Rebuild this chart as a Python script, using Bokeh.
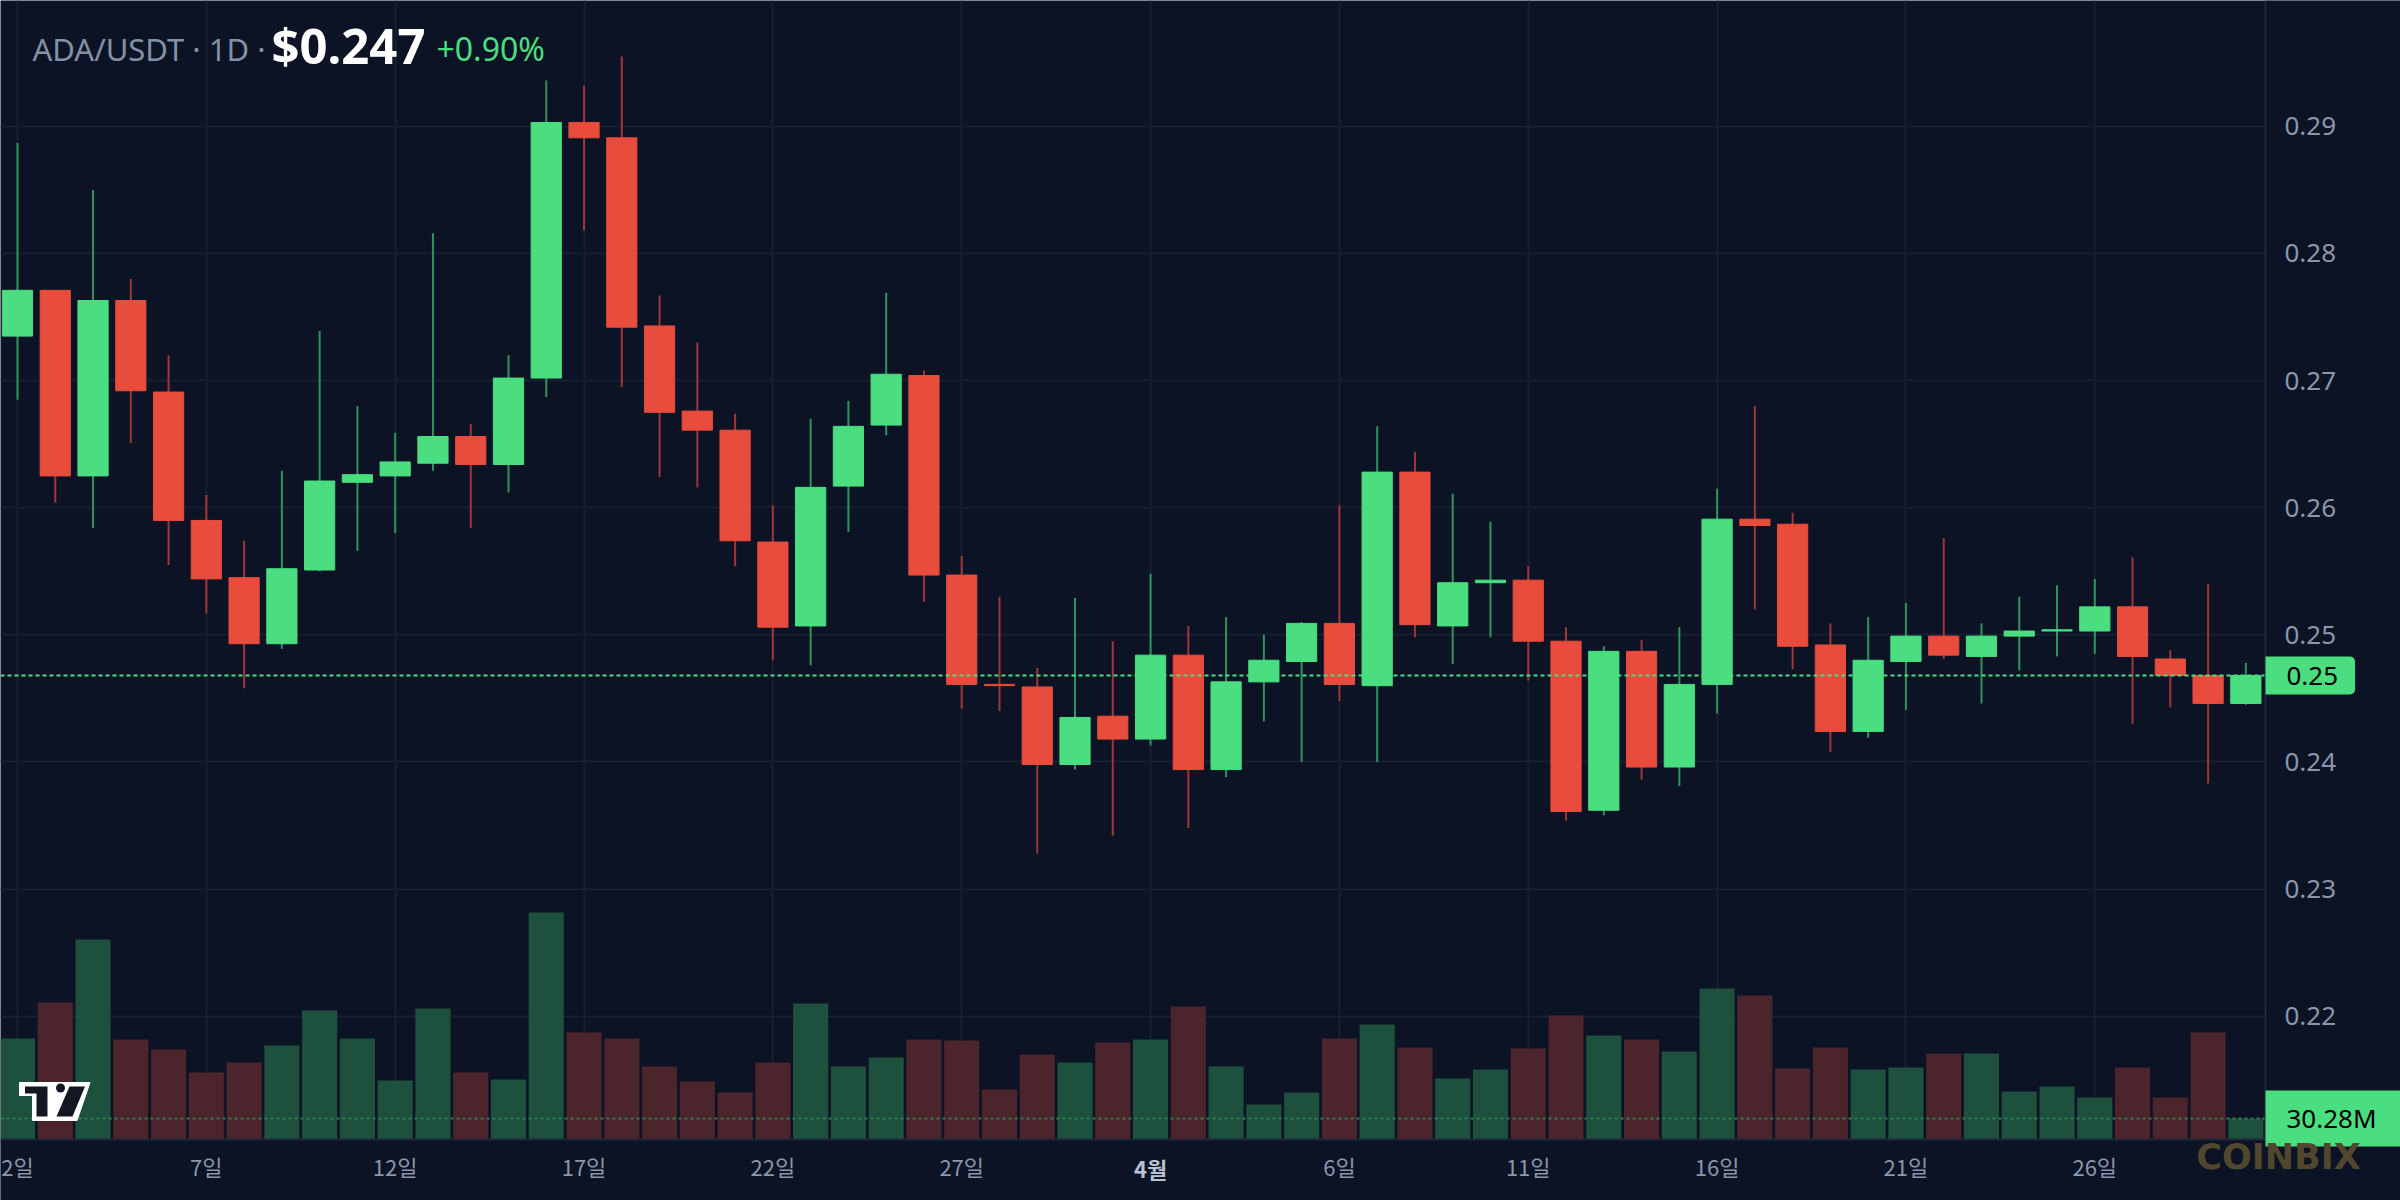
from bokeh.plotting import figure
from bokeh.models import (Range1d, FixedTicker, PrintfTickFormatter, Label, BoxAnnotation,
                          ColumnDataSource)
from bokeh.embed import file_html
from bokeh.resources import INLINE

# ---------------- data (ADA/USDT daily, Mar 2 - Apr 30) ----------------
opens = [0.2735, 0.2771, 0.2625, 0.2763, 0.2691, 0.2590, 0.2545, 0.2493, 0.2551, 0.2620,
         0.2625, 0.2635, 0.2656, 0.2634, 0.2702, 0.2903, 0.2891, 0.2743, 0.2676, 0.2661,
         0.2573, 0.2507, 0.2617, 0.2665, 0.2704, 0.2547, 0.2461, 0.2459, 0.2398, 0.2436,
         0.2418, 0.2484, 0.2394, 0.2463, 0.2479, 0.2509, 0.2460, 0.2628, 0.2507, 0.2541,
         0.2543, 0.2495, 0.2362, 0.2487, 0.2396, 0.2461, 0.2591, 0.2587, 0.2492, 0.2424,
         0.2479, 0.2499, 0.2483, 0.2499, 0.2503, 0.2503, 0.2522, 0.2481, 0.2468, 0.2446]
highs = [0.2887, 0.2771, 0.2850, 0.2780, 0.2720, 0.2610, 0.2574, 0.2629, 0.2739, 0.2680,
         0.2659, 0.2816, 0.2666, 0.2720, 0.2936, 0.2932, 0.2955, 0.2767, 0.2730, 0.2674,
         0.2602, 0.2670, 0.2684, 0.2769, 0.2708, 0.2562, 0.2530, 0.2474, 0.2529, 0.2495,
         0.2548, 0.2507, 0.2514, 0.2500, 0.2510, 0.2602, 0.2664, 0.2644, 0.2611, 0.2589,
         0.2554, 0.2506, 0.2491, 0.2496, 0.2506, 0.2615, 0.2680, 0.2596, 0.2509, 0.2514,
         0.2525, 0.2576, 0.2509, 0.2530, 0.2539, 0.2544, 0.2561, 0.2488, 0.2540, 0.2478]
lows = [0.2685, 0.2604, 0.2584, 0.2651, 0.2555, 0.2517, 0.2458, 0.2489, 0.2550, 0.2566,
        0.2580, 0.2629, 0.2584, 0.2612, 0.2687, 0.2818, 0.2695, 0.2624, 0.2616, 0.2554,
        0.2480, 0.2476, 0.2581, 0.2657, 0.2526, 0.2442, 0.2440, 0.2328, 0.2394, 0.2342,
        0.2413, 0.2348, 0.2388, 0.2432, 0.2400, 0.2448, 0.2400, 0.2498, 0.2477, 0.2498,
        0.2464, 0.2354, 0.2358, 0.2386, 0.2381, 0.2438, 0.2520, 0.2473, 0.2408, 0.2419,
        0.2441, 0.2481, 0.2446, 0.2472, 0.2483, 0.2485, 0.2430, 0.2443, 0.2383, 0.2445]
closes = [0.2771, 0.2625, 0.2763, 0.2692, 0.2590, 0.2544, 0.2493, 0.2552, 0.2621, 0.2626,
          0.2636, 0.2656, 0.2634, 0.2702, 0.2903, 0.2891, 0.2742, 0.2675, 0.2661, 0.2574,
          0.2506, 0.2616, 0.2664, 0.2705, 0.2547, 0.2461, 0.2460, 0.2398, 0.2435, 0.2418,
          0.2484, 0.2394, 0.2463, 0.2480, 0.2509, 0.2461, 0.2628, 0.2508, 0.2541, 0.2543,
          0.2495, 0.2361, 0.2487, 0.2396, 0.2461, 0.2591, 0.2586, 0.2491, 0.2424, 0.2480,
          0.2499, 0.2484, 0.2499, 0.2503, 0.2504, 0.2522, 0.2483, 0.2468, 0.2446, 0.2468]
volumes_m = [145.6, 197.6, 288.4, 144.2, 129.8, 96.6, 111.0, 135.5, 186.0, 145.6,
             85.1, 188.9, 96.6, 86.5, 327.3, 154.3, 145.6, 105.3, 83.6, 67.8,
             111.0, 196.1, 105.3, 118.2, 144.2, 142.8, 72.1, 122.6, 111.0, 139.9,
             144.2, 191.8, 105.3, 50.5, 67.8, 145.6, 165.8, 132.7, 88.0, 100.9,
             131.2, 178.8, 150.0, 144.2, 126.9, 217.7, 207.6, 102.4, 132.7, 100.9,
             103.8, 124.0, 124.0, 69.2, 76.4, 60.6, 103.8, 60.6, 154.3, 30.28]

tick_positions = [0, 5, 10, 15, 20, 25, 30, 35, 40, 45, 50, 55]
tick_labels = ["2일", "7일", "12일", "17일", "22일", "27일", "4월", "6일", "11일", "16일", "21일", "26일"]
month_tick = 30
price_ticks = [0.22, 0.23, 0.24, 0.25, 0.26, 0.27, 0.28, 0.29]
symbol_text = "ADA/USDT · 1D ·"

# ---------------- layout constants ----------------
W, H = 2400, 1200          # canvas
PW, PH = 2265, 1139        # chart pane (axes sit at its right / bottom edge)
X0, X1 = -0.45, 59.52      # visible days in the pane
Y0, Y1 = 0.2103, 0.2999    # visible prices in the pane
V1 = 1642.0                # volume at the pane top
x_end = X0 + (X1 - X0) * W / PW
y_start = Y1 - (Y1 - Y0) * H / PH
v_start = -V1 * (H - PH) / PH

# ---------------- style ----------------
BG = "#0b1325"
GRID = "#171f30"
AXIS = "#1f2738"
LABEL = "#8a96ab"
UP = "#4ade80"
DOWN = "#e74c3c"
UP_WICK = "#2f9458"
DOWN_WICK = "#a03636"
UP_VOL = "#1e503e"
DOWN_VOL = "#4c242c"

n = len(closes)
xs = list(range(n))
up = [c >= o for o, c in zip(opens, closes)]
src = ColumnDataSource(dict(
    x=xs, open=opens, high=highs, low=lows, close=closes, vol=volumes_m,
    btop=[max(o, c) for o, c in zip(opens, closes)],
    bbot=[min(o, c) for o, c in zip(opens, closes)],
    body=[UP if u else DOWN for u in up],
    wick=[UP_WICK if u else DOWN_WICK for u in up],
    vcolor=[UP_VOL if u else DOWN_VOL for u in up],
))

p = figure(width=W, height=H, output_backend="svg", toolbar_location=None,
           x_range=Range1d(X0, x_end), y_range=Range1d(y_start, Y1),
           y_axis_location="right", title=None,
           min_border_left=0, min_border_top=0, min_border_right=0, min_border_bottom=0,
           background_fill_color=BG, border_fill_color=BG, outline_line_color=None)

p.extra_y_ranges = {"vol": Range1d(v_start, V1), "py": Range1d(H, 0)}
p.extra_x_ranges = {"px": Range1d(0, W)}

# axes (pinned to the pane edges)
xt = FixedTicker(ticks=tick_positions)
yt = FixedTicker(ticks=price_ticks)
xa = p.xaxis[0]
xa.ticker = xt
xa.fixed_location = Y0
xa.bounds = (X0, X1)
xa.major_label_overrides = {t: ("" if t == month_tick else lab) for t, lab in zip(tick_positions, tick_labels)}
xa.major_label_text_font = "Noto Sans CJK KR"
xa.major_label_text_font_size = "22px"
xa.major_label_text_color = LABEL
xa.major_label_standoff = 10
xa.axis_line_color = AXIS
xa.axis_line_width = 2
xa.major_tick_line_color = None
xa.major_tick_out = 0
xa.major_tick_in = 0
xa.minor_tick_line_color = None

ya = p.yaxis[0]
ya.ticker = yt
ya.fixed_location = X1
ya.bounds = (Y0, Y1)
ya.formatter = PrintfTickFormatter(format="%.2f")
ya.major_label_text_font = "Noto Sans"
ya.major_label_text_font_size = "26px"
ya.major_label_text_color = LABEL
ya.major_label_standoff = 19
ya.axis_line_color = AXIS
ya.axis_line_width = 2
ya.major_tick_line_color = None
ya.major_tick_out = 0
ya.major_tick_in = 0
ya.minor_tick_line_color = None

p.xgrid.ticker = xt
p.ygrid.ticker = yt
p.xgrid.grid_line_color = GRID
p.ygrid.grid_line_color = GRID
p.xgrid.grid_line_width = 2
p.ygrid.grid_line_width = 2

# keep grid lines inside the chart pane
p.add_layout(BoxAnnotation(left=X1, fill_color=BG, fill_alpha=1, line_color=None, level="underlay"))
p.add_layout(BoxAnnotation(top=Y0, fill_color=BG, fill_alpha=1, line_color=None, level="underlay"))

# volume
p.vbar(x="x", top="vol", bottom=0, width=0.93, fill_color="vcolor", line_color=None,
       y_range_name="vol", source=src)

# candles
p.segment(x0="x", y0="low", x1="x", y1="high", line_color="wick", line_width=2, source=src)
p.vbar(x="x", top="btop", bottom="bbot", width=0.8, fill_color="body", line_color="body",
       line_width=1, source=src)

# last price / last volume dashed lines across the pane
p.segment(x0=[X0], x1=[X1], y0=[closes[-1]], y1=[closes[-1]], line_color=UP,
          line_dash="4 3", line_width=2)
p.segment(x0=[X0], x1=[X1], y0=[volumes_m[-1]], y1=[volumes_m[-1]], line_color="#2e7d50",
          line_dash="3 3", line_width=2, y_range_name="vol")

# value tags on the price scale (box starts at the pane edge)
p.add_layout(Label(x=PW, y=closes[-1], x_range_name="px", text=f"{closes[-1]:.2f}",
                   text_font="Noto Sans", text_font_size="26px", text_color="#000000",
                   text_baseline="middle", text_align="left",
                   background_fill_color=UP,
                   padding=dict(left=21, right=17, top=10, bottom=10),
                   border_radius=dict(top_left=0, top_right=5, bottom_right=5, bottom_left=0)))
p.add_layout(Label(x=PW, y=volumes_m[-1], x_range_name="px", y_range_name="vol",
                   text=f"{volumes_m[-1]:.2f}M",
                   text_font="Noto Sans", text_font_size="26px", text_color="#000000",
                   text_baseline="middle", text_align="left",
                   background_fill_color=UP,
                   padding=dict(left=21, right=32, top=10, bottom=10),
                   border_radius=dict(top_left=0, top_right=5, bottom_right=5, bottom_left=0)))

# bold month label on the time scale
p.add_layout(Label(x=month_tick, y=1167, y_range_name="py",
                   text=tick_labels[tick_positions.index(month_tick)],
                   text_font="Noto Sans CJK KR", text_font_style="bold", text_font_size="22px",
                   text_color="#b8c2d2", text_align="center", text_baseline="middle"))

# header
change = (closes[-1] / closes[-2] - 1) * 100
p.add_layout(Label(x=32, y=48, x_range_name="px", y_range_name="py", text=symbol_text,
                   text_font="Noto Sans", text_font_size="31px", text_color="#8391a7",
                   text_baseline="alphabetic"))
p.add_layout(Label(x=271, y=44, x_range_name="px", y_range_name="py", text=f"${closes[-1]:.3f}",
                   text_font="Noto Sans", text_font_style="bold", text_font_size="49px",
                   text_color="#ffffff", text_baseline="alphabetic"))
p.add_layout(Label(x=436, y=48, x_range_name="px", y_range_name="py", text=f"{change:+.2f}%",
                   text_font="Noto Sans", text_font_size="32px", text_color=UP,
                   text_baseline="alphabetic"))

# TradingView-style logo (decoration, pixel space)
p.patch(x=[19, 89.5, 76.5, 32, 32, 19], y=[1082, 1082, 1120, 1120, 1095, 1095],
        x_range_name="px", y_range_name="py", fill_color="#ffffff", line_color="#ffffff",
        line_width=1)
p.patches(xs=[[24.5, 47, 47, 36, 36, 24.5], [69, 84.5, 72, 56]],
          ys=[[1086, 1086, 1116, 1116, 1093, 1093], [1086, 1086, 1116, 1116]],
          x_range_name="px", y_range_name="py", fill_color="#131722", line_color=None)
p.scatter(x=[60], y=[1087.5], size=9, marker="circle", fill_color="#131722", line_color=None,
          x_range_name="px", y_range_name="py")

# watermark
p.add_layout(Label(x=2278, y=1156, x_range_name="px", y_range_name="py", text="COINBIX",
                   text_font="DejaVu Sans", text_font_style="bold", text_font_size="35px",
                   text_color="#51472f", text_align="center", text_baseline="middle"))

open("out.html", "w").write(file_html(p, INLINE))
